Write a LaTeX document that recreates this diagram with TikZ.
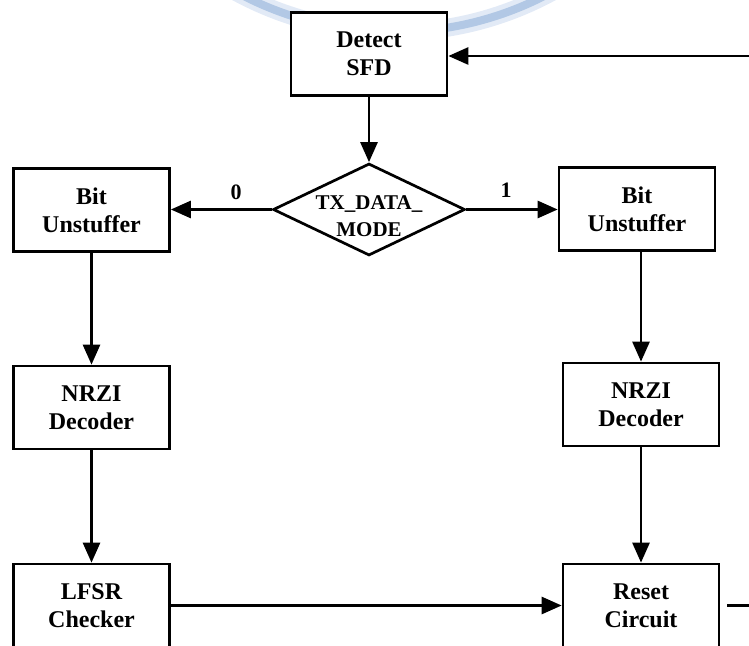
\documentclass[tikz,border=0pt]{standalone}
\usepackage{fontspec}
\setmainfont{Liberation Serif}
\usetikzlibrary{shapes.geometric,arrows.meta}
\definecolor{markblue}{RGB}{178,200,229}
\definecolor{markhaze}{RGB}{226,234,246}

\tikzset{
	block/.style={draw, fill=white, minimum width=78pt, minimum height=41.5pt, inner sep=0pt, align=center, font=\bfseries\fontsize{12}{14}\selectfont},
	choice/.style={draw, diamond, fill=white, inner sep=0pt, minimum width=96pt, minimum height=46pt},
	choicetext/.style={align=center, inner sep=0pt, font=\bfseries\fontsize{10.5}{13.5}\selectfont},
	tag/.style={font=\bfseries\fontsize{11}{13}\selectfont},
	flow/.style={-{Triangle[length=10pt,width=8.5pt]}}
}

\begin{document}
\begin{tikzpicture}[x=0.5pt, y=-0.5pt, line width=1.35pt]
		\useasboundingbox (0,0) rectangle (749,646);
		
		%faint mark along the top edge
		\begin{scope}
			\clip (0,0) rectangle (749,646);
			\draw[markhaze, line width=9pt] (394,-299) circle[radius=165.5pt];
			\draw[markblue, line width=4pt] (394,-299) circle[radius=165.5pt];
		\end{scope}
		
		%blocks
		\node[block] (sfd) at (369,54) {Detect\\SFD};
		\node[choice, label={[choicetext, yshift=-3.5pt]center:{TX\_DATA\_\\MODE}}] (mode) at (369,209.5) {};
		\node[block] (bul) at (91.5,210) {Bit\\Unstuffer};
		\node[block] (bur) at (637,209) {Bit\\Unstuffer};
		\node[block] (nrzl) at (91.5,407.5) {NRZI\\Decoder};
		\node[block] (nrzr) at (641,404.5) {NRZI\\Decoder};
		\node[block] (lfsr) at (91.5,605.5) {LFSR\\Checker};
		\node[block] (reset) at (641,605.5) {Reset\\Circuit};
		
		%branch values
		\node[tag] (zero) at (236,192) {0};
		\node[tag] (one) at (506,190) {1};
		
		%flow
		\draw[flow] (sfd) -- (mode);
		\draw[flow] (mode.west) -- (mode.west -| bul.east);
		\draw[flow] (mode.east) -- (mode.east -| bur.west);
		\draw[flow] (bul) -- (nrzl);
		\draw[flow] (nrzr.north |- bur.south) -- (nrzr.north);
		\draw[flow] (nrzl) -- (lfsr);
		\draw[flow] (nrzr) -- (reset);
		\draw[flow] (lfsr) -- (reset);
		
		%loop back to the top block
		\coordinate (backlow) at (749,605.5);
		\coordinate (backtop) at (749,56);
		\draw ([xshift=3.5pt]reset.east) -- (backlow);
		\draw[flow] (backtop) -- (backtop -| sfd.east);
\end{tikzpicture}
\end{document}
